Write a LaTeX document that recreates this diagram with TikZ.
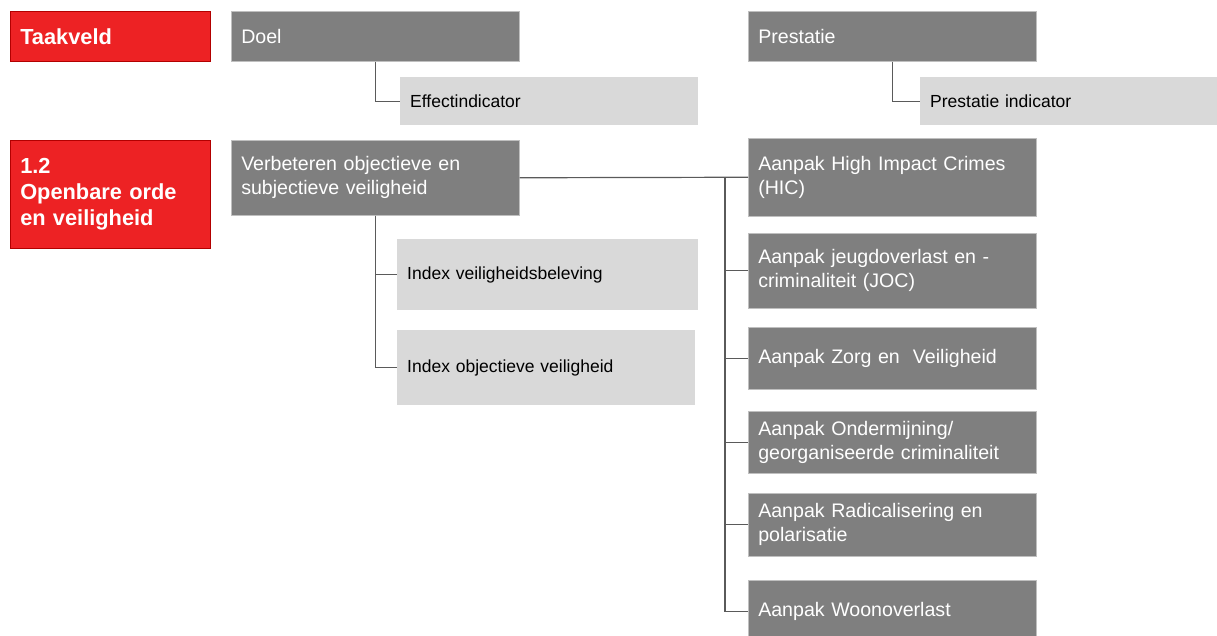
\documentclass[tikz,border=0pt]{standalone}
\usepackage{fontspec}
\setmainfont{Liberation Sans}
\definecolor{rood}{RGB}{237,34,36}
\definecolor{donker}{RGB}{127,127,127}
\definecolor{licht}{RGB}{217,217,217}
\definecolor{lijn}{RGB}{90,90,90}
\tikzset{
  blok/.style={anchor=north west, inner xsep=10pt, inner ysep=0pt, align=left},
  redbox/.style={blok, fill=rood, draw=red!70!black, line width=0.5pt, text=white,
    font=\fontsize{21.8}{26}\selectfont\bfseries},
  graybox/.style={blok, fill=donker, draw=black!25, line width=0.5pt, text=white,
    font=\fontsize{19.6}{24}\selectfont},
  lightbox/.style={blok, fill=licht, text=black,
    font=\fontsize{17.5}{22}\selectfont},
  tak/.style={draw=lijn, line width=1.2pt}
}
\begin{document}
\begin{tikzpicture}[x=1pt,y=-1pt]
\useasboundingbox (0,0) rectangle (1217,635);
\clip (0,0) rectangle (1217,635);
% kopregel
\node[redbox, text width=180pt, minimum width=200pt, minimum height=50pt] (taak) at (10,11) {Taakveld};
\node[graybox, text width=268pt, minimum width=288pt, minimum height=50pt] (doel) at (231,11) {Doel};
\node[lightbox, text width=278pt, minimum width=298pt, minimum height=48pt] (effect) at (400,77) {Effectindicator};
\node[graybox, text width=268pt, minimum width=288pt, minimum height=50pt] (prest) at (748,11) {Prestatie};
\node[lightbox, text width=280pt, minimum width=300pt, minimum height=48pt] (prestind) at (920,77) {Prestatie indicator};
% taakveld 1.2
\node[redbox, text width=180pt, minimum width=200pt, minimum height=108pt] (ood) at (10,140) {1.2\\Openbare orde\\en veiligheid};
\node[graybox, text width=268pt, minimum width=288pt, minimum height=75pt] (verb) at (231,140) {Verbeteren objectieve en\\subjectieve veiligheid};
\node[lightbox, text width=281pt, minimum width=301pt, minimum height=71pt] (ivb) at (397,239) {Index veiligheidsbeleving};
\node[lightbox, text width=278pt, minimum width=298pt, minimum height=75pt] (iov) at (397,330) {Index objectieve veiligheid};
% prestaties
\node[graybox, text width=268pt, minimum width=288pt, minimum height=78pt] (hic) at (748,138) {Aanpak High Impact Crimes\\(HIC)};
\node[graybox, text width=268pt, minimum width=288pt, minimum height=75pt] (joc) at (748,233) {Aanpak jeugdoverlast en -\\criminaliteit (JOC)};
\node[graybox, text width=268pt, minimum width=288pt, minimum height=62pt] (zorg) at (748,327) {Aanpak Zorg en~ Veiligheid};
\node[graybox, text width=268pt, minimum width=288pt, minimum height=62pt] (ond) at (748,411) {Aanpak Ondermijning/\\georganiseerde criminaliteit};
\node[graybox, text width=268pt, minimum width=288pt, minimum height=63pt] (rad) at (748,493) {Aanpak Radicalisering en\\polarisatie};
\node[graybox, text width=268pt, minimum width=288pt, minimum height=62pt] (woon) at (748,580) {Aanpak Woonoverlast};
% verbindingen
\draw[tak] (doel.south) |- (effect.west);
\draw[tak] (prest.south) |- (prestind.west);
\draw[tak] (verb.south) |- (ivb.west);
\draw[tak] (verb.south) |- (iov.west);
\draw[tak] (verb.east) -- (hic.west);
\coordinate (bus) at (725,177);
\foreach \n in {joc,zorg,ond,rad,woon}
  \draw[tak] (bus) |- (\n.west);
\end{tikzpicture}
\end{document}
